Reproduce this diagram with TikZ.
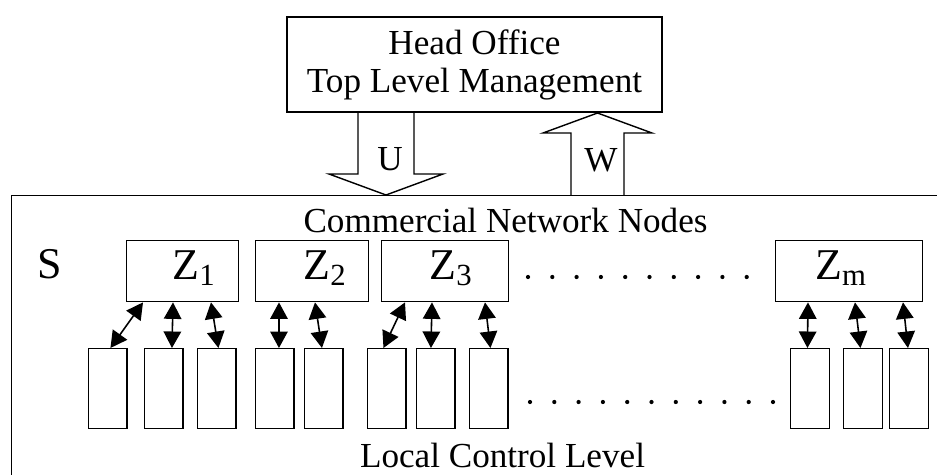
\documentclass[tikz,border=0pt]{standalone}
\usepackage{fontspec}
\setmainfont{Liberation Serif}
\usetikzlibrary{positioning, arrows.meta, calc}

\begin{document}
\begin{tikzpicture}[x=0.02cm, y=-0.02cm, line width=0.8pt,
		zbox/.style={draw, rectangle, anchor=north west, minimum height=1.22cm, inner sep=0pt},
		cell/.style={draw, rectangle, anchor=north west, minimum width=0.77cm, minimum height=1.6cm, inner sep=0pt},
		link/.style={{Triangle[length=0.33cm,width=0.35cm]}-{Triangle[length=0.33cm,width=0.35cm]}, line width=0.9pt},
		txt/.style={font=\fontsize{20}{21.6}\selectfont},
		ztxt/.style={font=\fontsize{25}{27}\selectfont, anchor=base}]
	\useasboundingbox (0,0) rectangle (937,474);
	\clip (0,0) rectangle (937,474);

	% head office
	\node[draw, txt, align=center, minimum width=7.5cm, minimum height=1.9cm] (head) at (474.5,64.5)
		{Head Office\\Top Level Management};

	% block arrows U and W
	\draw (358,112) -- (358,174) -- (329,174) -- (386,195) -- (443,174) -- (414,174) -- (414,112);
	\draw (571,195) -- (571,133) -- (543,133) -- (597.5,113) -- (652,133) -- (624,133) -- (624,195);
	\node[txt] (u) at (390,159) {U};
	\node[txt] (w) at (601,160) {W};

	% system frame
	\node[draw, anchor=north west, minimum width=19.2cm, minimum height=6.5cm] (frame) at (11,195) {};
	\node[txt, anchor=base] (cnn) at (505.5,232) {Commercial Network Nodes};
	\node[txt, anchor=base] (lcl) at (502.5,467) {Local Control Level};
	\node[ztxt] (s) at (50,278) {S};

	% network nodes
	\node[zbox, minimum width=2.24cm] (z1) at (126,240) {};
	\node[zbox, minimum width=2.26cm] (z2) at (255,240) {};
	\node[zbox, minimum width=2.54cm] (z3) at (381,240) {};
	\node[zbox, minimum width=2.94cm] (zm) at (775,240) {};
	\node[ztxt] (t1) at (194,279) {Z\textsubscript{1}};
	\node[ztxt] (t2) at (325,279) {Z\textsubscript{2}};
	\node[ztxt] (t3) at (451,279) {Z\textsubscript{3}};
	\node[ztxt] (tm) at (841,279) {Z\textsubscript{m}};

	% local control units
	\foreach \n/\xl in {1/88, 2/144, 3/197, 4/255, 5/304, 6/367, 7/416, 8/469, 9/790, 10/843, 11/889}
		\node[cell] (b\n) at (\xl,348) {};

	% links
	\foreach \z/\dx/\b/\db in {z1/17/b1/2.5, z1/47/b2/8, z1/85/b3/1.5, z2/24/b4/4, z2/60/b5/-2,
			z3/24/b6/-3.5, z3/51/b7/-5, z3/104/b8/1.5, zm/33/b9/-2.5, zm/80/b10/-2.5, zm/128/b11/-1}
		\draw[link] ($(\z.south west)+(\dx,0)$) -- ($(\b.north)+(\db,0)$);

	% dots
	\foreach \k in {0,...,9}
		\fill (528+24.3*\k,277) circle (1.2pt);
	\foreach \k in {0,...,10}
		\fill (530+24.3*\k,402) circle (1.2pt);
\end{tikzpicture}
\end{document}
